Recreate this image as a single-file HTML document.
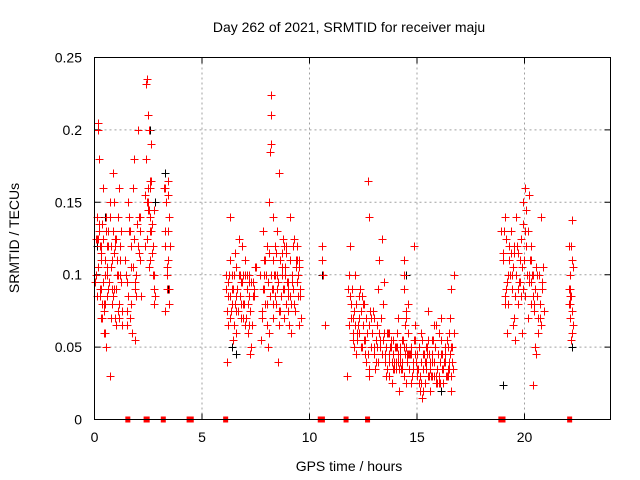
<!DOCTYPE html>
<html><head><meta charset="utf-8"><style>
body{margin:0;background:#fff}
svg{display:block;font-family:"Liberation Sans",sans-serif}
</style></head><body>
<svg id="chart" width="640" height="480">
<text x="349" y="32" font-size="14" text-anchor="middle">Day 262 of 2021, SRMTID for receiver maju</text>
<text x="349" y="471" font-size="14" text-anchor="middle">GPS time / hours</text>
<text transform="translate(19,238) rotate(-90)" font-size="14" text-anchor="middle">SRMTID / TECUs</text>
<g id="grid"></g><g id="ticks"></g><g id="black"></g><g id="red"></g><g id="gaps"></g>
<rect x="94.5" y="57.5" width="516" height="362" fill="none" stroke="#000"/>
</svg>
<script>
const xTicks=[0,5,10,15,20];
const yTicks=[0,0.05,0.1,0.15,0.2,0.25];
const yTickLabels=["0","0.05","0.1","0.15","0.2","0.25"];
const gapTimes=[1.55,2.4,2.45,3.2,4.4,4.5,6.1,10.5,10.6,11.7,12.7,18.9,19.0,22.1];
const blackTimes=[0.1,0.5,1.2,2.6,2.8,3.3,3.4,6.4,6.6,8.2,10.6,10.6,14.5,16.1,19.0,22.2,22.2];
const blackValues=[0.12,0.14,0.11,0.2,0.15,0.17,0.09,0.05,0.045,0.19,0.11,0.1,0.1,0.02,0.024,0.06,0.05];
const redTimes=[
0.05,0.1,0.15,0.2,0.25,0.3,0.35,0.4,0.45,0.5,0.55,0.6,0.65,0.7,0.75,0.8,0.85,0.9,0.95,1.0,1.05,1.1,1.15,1.2,1.25,0.1,0.2,0.3,0.4,0.5,0.6,0.7,0.8,0.9,1.0,1.1,1.2,0.15,0.35,0.55,0.75,0.95,1.15,0.25,0.45,0.65,0.85,1.05,0.3,0.6,0.9,
1.45,1.5,1.6,1.7,1.75,1.8,1.9,2.0,2.05,2.1,2.15,1.55,1.65,1.85,1.95,2.0,1.5,1.7,1.9,2.1,
2.35,2.4,2.45,2.5,2.55,2.6,2.65,2.7,2.75,2.8,2.4,2.5,2.6,2.7,2.45,2.55,2.65,2.75,2.5,2.6,
3.25,3.3,3.35,3.4,3.45,3.5,3.3,3.4,3.35,3.45,
6.1,6.2,6.3,6.4,6.5,6.6,6.7,6.8,6.9,7.0,7.1,7.2,7.3,7.4,7.5,6.15,6.35,6.55,6.75,6.95,7.15,7.35,6.25,6.45,6.65,6.85,7.05,7.25,7.45,6.3,6.6,6.9,7.2,
7.7,7.8,7.9,8.0,8.1,8.2,8.3,8.4,8.5,8.6,8.7,8.8,8.9,9.0,9.1,9.2,9.3,9.4,9.5,9.6,7.75,7.95,8.15,8.35,8.55,8.75,8.95,9.15,9.35,9.55,7.85,8.05,8.25,8.45,8.65,8.85,9.05,9.25,9.45,8.0,8.1,8.15,8.2,8.2,8.3,8.4,8.6,8.8,9.0,9.2,9.4,
10.6,10.6,10.65,10.7,
11.75,11.8,11.9,12.0,12.1,12.2,12.3,12.4,12.5,12.6,12.7,12.8,12.9,13.0,13.1,13.2,13.3,13.4,11.85,12.05,12.25,12.45,12.65,12.85,13.05,13.25,13.45,11.95,12.15,12.35,12.55,12.75,12.95,13.15,13.35,12.75,12.75,13.0,
13.5,13.6,13.7,13.8,13.9,14.0,14.1,14.2,14.3,14.4,14.5,14.6,14.7,14.8,14.9,13.55,13.75,13.95,14.15,14.35,14.55,14.75,14.95,13.65,13.85,14.05,14.25,14.45,14.65,14.85,14.4,14.4,14.5,14.5,14.6,13.6,13.9,14.2,
15.0,15.1,15.2,15.3,15.4,15.5,15.6,15.7,15.8,15.9,16.0,16.1,16.2,16.3,16.4,16.5,16.6,16.7,15.05,15.25,15.45,15.65,15.85,16.05,16.25,16.45,16.65,15.15,15.35,15.55,15.75,15.95,16.15,16.35,16.55,15.2,15.5,15.8,16.1,16.4,16.6,
18.9,19.0,19.1,19.2,19.3,19.4,19.5,19.6,19.7,19.8,19.9,20.0,20.1,20.2,20.3,20.4,20.5,20.6,20.7,20.8,20.9,19.05,19.25,19.45,19.65,19.85,20.05,20.25,20.45,20.65,20.85,19.15,19.35,19.55,19.75,19.95,20.15,20.35,20.55,20.75,19.95,20.0,20.3,20.4,19.1,
22.05,22.1,22.15,22.2,22.25,22.1,22.15,22.2,22.05,22.25,22.1,22.2];
const redValues=[
0.1,0.14,0.2,0.13,0.09,0.12,0.07,0.16,0.08,0.11,0.05,0.1,0.13,0.15,0.07,0.11,0.17,0.09,0.12,0.065,0.1,0.14,0.08,0.11,0.13,0.085,0.18,0.11,0.095,0.06,0.12,0.03,0.09,0.15,0.125,0.075,0.1,0.205,0.08,0.14,0.105,0.07,0.16,0.12,0.06,0.09,0.13,0.11,0.07,0.1,0.115,
0.1,0.075,0.13,0.12,0.06,0.16,0.09,0.2,0.14,0.11,0.085,0.15,0.07,0.18,0.1,0.12,0.065,0.08,0.055,0.13,
0.12,0.18,0.235,0.16,0.2,0.14,0.13,0.1,0.09,0.085,0.232,0.21,0.165,0.12,0.15,0.105,0.19,0.08,0.145,0.16,
0.16,0.13,0.1,0.155,0.08,0.12,0.075,0.165,0.09,0.14,
0.09,0.065,0.11,0.08,0.1,0.06,0.125,0.095,0.07,0.11,0.1,0.085,0.05,0.09,0.105,0.04,0.075,0.115,0.1,0.08,0.06,0.095,0.1,0.055,0.09,0.12,0.07,0.045,0.105,0.14,0.085,0.1,0.065,
0.1,0.07,0.09,0.12,0.06,0.224,0.11,0.085,0.13,0.065,0.1,0.09,0.115,0.075,0.14,0.095,0.08,0.12,0.105,0.07,0.055,0.11,0.085,0.1,0.04,0.125,0.095,0.06,0.11,0.085,0.13,0.05,0.09,0.115,0.075,0.105,0.065,0.12,0.1,0.08,0.15,0.185,0.19,0.21,0.14,0.1,0.17,0.12,0.09,0.095,0.11,
0.12,0.11,0.1,0.065,
0.03,0.09,0.12,0.07,0.1,0.06,0.085,0.05,0.08,0.045,0.165,0.075,0.06,0.07,0.04,0.09,0.055,0.08,0.1,0.05,0.065,0.085,0.04,0.07,0.035,0.11,0.06,0.08,0.045,0.09,0.055,0.03,0.075,0.05,0.125,0.14,0.035,
0.05,0.04,0.06,0.03,0.055,0.045,0.035,0.07,0.05,0.04,0.1,0.025,0.06,0.045,0.035,0.065,0.03,0.05,0.04,0.02,0.055,0.045,0.03,0.04,0.06,0.025,0.05,0.035,0.065,0.045,0.12,0.11,0.09,0.075,0.07,0.08,0.035,0.045,
0.04,0.03,0.05,0.025,0.045,0.035,0.055,0.02,0.04,0.03,0.065,0.025,0.045,0.035,0.05,0.03,0.04,0.02,0.06,0.035,0.015,0.045,0.03,0.05,0.025,0.04,0.035,0.05,0.02,0.04,0.03,0.055,0.025,0.045,0.03,0.07,0.06,0.075,0.065,0.07,0.055,
0.09,0.13,0.11,0.08,0.06,0.12,0.1,0.07,0.14,0.09,0.11,0.06,0.16,0.1,0.155,0.12,0.085,0.05,0.1,0.07,0.09,0.075,0.13,0.1,0.065,0.12,0.085,0.145,0.11,0.08,0.06,0.105,0.09,0.115,0.055,0.095,0.135,0.07,0.1,0.045,0.14,0.15,0.13,0.095,0.024,
0.14,0.12,0.1,0.085,0.075,0.065,0.09,0.055,0.138,0.08,0.105,0.07];
const redTimesB=[
0.02,0.08,0.12,0.18,0.22,0.28,0.32,0.38,0.42,0.48,0.52,0.58,0.62,0.68,0.72,0.78,0.82,0.88,0.92,0.98,1.02,1.08,1.12,1.18,1.22,1.28,0.05,0.17,0.27,0.37,0.47,0.57,0.67,0.77,0.87,0.97,1.07,1.17,1.27,0.13,
1.42,1.52,1.62,1.72,1.82,1.92,2.02,2.12,1.47,1.67,1.87,2.07,1.57,1.77,1.97,
2.37,2.42,2.52,2.57,2.62,2.67,2.72,2.77,2.47,2.58,2.68,2.78,
3.27,3.32,3.37,3.42,3.47,3.3,3.4,3.45,
6.12,6.18,6.22,6.28,6.32,6.38,6.42,6.48,6.52,6.58,6.62,6.68,6.72,6.78,6.82,6.88,6.92,6.98,7.02,7.08,7.12,7.18,7.22,7.28,7.32,7.38,7.42,7.48,6.2,6.4,6.6,6.8,7.0,7.2,7.4,
7.72,7.78,7.82,7.88,7.92,7.98,8.02,8.08,8.12,8.18,8.22,8.28,8.32,8.38,8.42,8.48,8.52,8.58,8.62,8.68,8.72,8.78,8.82,8.88,8.92,8.98,9.02,9.08,9.12,9.18,9.22,9.28,9.32,9.38,9.42,9.48,9.52,9.58,7.9,8.3,8.7,9.1,9.5,8.5,8.9,
11.82,11.88,11.92,11.98,12.02,12.08,12.12,12.18,12.22,12.28,12.32,12.38,12.42,12.48,12.52,12.58,12.62,12.68,12.72,12.78,12.82,12.88,12.92,12.98,13.02,13.08,13.12,13.18,13.22,13.28,13.32,13.38,13.42,13.48,12.0,
13.52,13.58,13.62,13.68,13.72,13.78,13.82,13.88,13.92,13.98,14.02,14.08,14.12,14.18,14.22,14.28,14.32,14.38,14.42,14.48,14.52,14.58,14.62,14.68,14.72,14.78,14.82,14.88,14.92,14.98,13.7,14.0,14.3,14.6,14.9,14.1,14.4,14.7,13.9,14.2,
15.02,15.08,15.12,15.18,15.22,15.28,15.32,15.38,15.42,15.48,15.52,15.58,15.62,15.68,15.72,15.78,15.82,15.88,15.92,15.98,16.02,16.08,16.12,16.18,16.22,16.28,16.32,16.38,16.42,16.48,16.52,16.58,16.62,16.68,15.1,15.4,15.7,16.0,16.3,16.6,15.3,15.6,15.9,16.2,16.5,15.0,15.5,16.0,16.45,16.7,
19.02,19.08,19.12,19.18,19.22,19.28,19.32,19.38,19.42,19.48,19.52,19.58,19.62,19.68,19.72,19.78,19.82,19.88,19.92,19.98,20.02,20.08,20.12,20.18,20.22,20.28,20.32,20.38,20.42,20.48,20.52,20.58,20.62,20.68,20.72,20.78,20.82,20.88,19.5,20.2,
22.07,22.12,22.17,22.22,22.1,22.18];
const redValuesB=[
0.11,0.095,0.125,0.085,0.105,0.135,0.115,0.09,0.125,0.075,0.1,0.13,0.085,0.12,0.095,0.14,0.105,0.08,0.13,0.115,0.09,0.125,0.1,0.07,0.12,0.095,0.075,0.1,0.125,0.085,0.135,0.08,0.105,0.095,0.12,0.085,0.125,0.1,0.11,0.065,
0.125,0.11,0.095,0.14,0.105,0.125,0.085,0.12,0.14,0.1,0.13,0.095,0.115,0.085,0.105,
0.135,0.155,0.125,0.145,0.11,0.165,0.135,0.12,0.1,0.15,0.13,0.115,
0.145,0.12,0.15,0.105,0.13,0.09,0.16,0.11,
0.08,0.1,0.075,0.095,0.085,0.07,0.1,0.09,0.065,0.08,0.105,0.09,0.075,0.1,0.085,0.07,0.095,0.08,0.1,0.065,0.09,0.08,0.1,0.075,0.095,0.065,0.085,0.09,0.105,0.085,0.09,0.075,0.08,0.1,0.095,
0.085,0.1,0.075,0.09,0.11,0.08,0.1,0.065,0.095,0.115,0.085,0.1,0.07,0.09,0.12,0.08,0.1,0.095,0.075,0.11,0.085,0.105,0.09,0.07,0.1,0.12,0.085,0.095,0.11,0.08,0.1,0.09,0.125,0.075,0.105,0.095,0.085,0.11,0.09,0.1,0.08,0.115,0.085,0.065,0.09,
0.08,0.065,0.085,0.07,0.09,0.06,0.075,0.065,0.08,0.055,0.07,0.06,0.075,0.05,0.065,0.08,0.055,0.07,0.06,0.045,0.065,0.075,0.05,0.06,0.07,0.045,0.055,0.065,0.04,0.06,0.05,0.07,0.045,0.055,0.095,
0.055,0.045,0.05,0.035,0.06,0.045,0.05,0.04,0.055,0.035,0.05,0.04,0.06,0.045,0.035,0.05,0.04,0.055,0.03,0.045,0.05,0.04,0.06,0.035,0.045,0.05,0.03,0.04,0.055,0.045,0.03,0.04,0.05,0.035,0.045,0.055,0.04,0.05,0.025,0.035,
0.045,0.035,0.05,0.03,0.04,0.055,0.035,0.045,0.025,0.04,0.05,0.03,0.045,0.035,0.055,0.03,0.04,0.05,0.025,0.035,0.045,0.03,0.04,0.055,0.035,0.025,0.045,0.04,0.03,0.05,0.035,0.045,0.03,0.04,0.035,0.025,0.05,0.045,0.03,0.04,0.05,0.02,0.04,0.03,0.035,0.06,0.045,0.055,0.06,0.03,
0.1,0.115,0.085,0.125,0.095,0.08,0.11,0.1,0.13,0.09,0.105,0.12,0.085,0.1,0.115,0.08,0.095,0.125,0.105,0.09,0.11,0.085,0.12,0.1,0.13,0.095,0.08,0.11,0.1,0.075,0.09,0.105,0.085,0.07,0.1,0.08,0.065,0.095,0.105,0.115,
0.1,0.09,0.08,0.12,0.06,0.085];
const allRedTimes=redTimes.concat(redTimesB);
const allRedValues=redValues.concat(redValuesB);
const X0=94.5,X1=610.5,Y0=419.5,Y1=57.5;
const sx=t=>X0+(t/24)*(X1-X0);
const sy=v=>Y0-(v/0.25)*(Y0-Y1);
const NS="http://www.w3.org/2000/svg";
function mk(tag,attrs,parent){const e=document.createElementNS(NS,tag);for(const k in attrs)e.setAttribute(k,attrs[k]);parent.appendChild(e);return e;}
const grid=document.getElementById('grid'),ticks=document.getElementById('ticks');
xTicks.forEach((t,i)=>{
  const x=sx(t);
  if(t>0){const g=mk('line',{x1:x,x2:x,y1:Y1,y2:Y0,stroke:'#a0a0a0','stroke-dasharray':'2,3'},grid);
  
  }
  const tk=mk('path',{d:`M${x},${Y0}v-6M${x},${Y1}v6`,stroke:'#000'},ticks);
  
  
  const lb=mk('text',{x:x,y:442,'font-size':14,'text-anchor':'middle'},ticks);lb.textContent=t;
  
  
});
yTicks.forEach((v,i)=>{
  const y=sy(v);
  if(v>0&&v<0.25){const g=mk('line',{x1:X0,x2:X1,y1:y,y2:y,stroke:'#a0a0a0','stroke-dasharray':'2,3'},grid);
  
  }
  const tk=mk('path',{d:`M${X0},${y}h6M${X1},${y}h-6`,stroke:'#000'},ticks);
  
  
  const lb=mk('text',{x:82,y:y+5,'font-size':14,'text-anchor':'end'},ticks);lb.textContent=yTickLabels[i];
  
  
});
function plus(t,v,col,parent,name){
  const x=Math.round(sx(t))+0.5,y=Math.round(sy(v))+0.5;
  const p=mk('path',{d:`M${x-4},${y}h8M${x},${y-4}v8`,stroke:col,'stroke-width':1},parent);
  
  
}
const bg=document.getElementById('black'),rg=document.getElementById('red');
blackTimes.forEach((t,i)=>plus(t,blackValues[i],'#000',bg,'black-point'));
allRedTimes.forEach((t,i)=>plus(t,allRedValues[i],'#f00',rg,'red-point'));
const gg=document.getElementById('gaps');
gapTimes.forEach(t=>{
  const r=mk('rect',{x:sx(t)-2.5,y:Y0-3,width:5,height:6,fill:'#f00'},gg);
  
  
});
</script>
</body></html>
